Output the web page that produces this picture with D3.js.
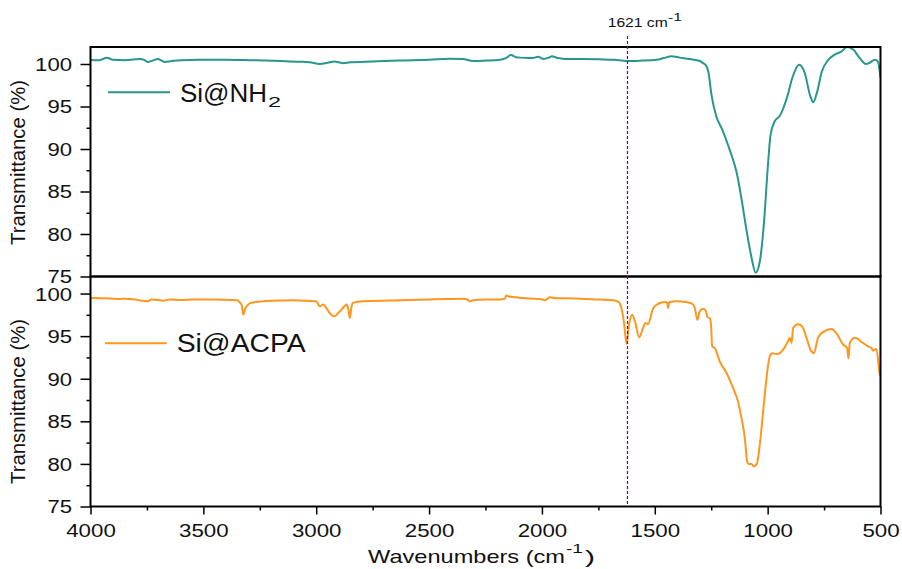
<!DOCTYPE html>
<html><head><meta charset="utf-8">
<script src="https://cdn.jsdelivr.net/npm/d3@7"></script>
<style>body{margin:0;background:#fff}svg{display:block}text{font-family:"Liberation Sans",Arial,sans-serif;fill:#111}</style>
</head><body><svg id="c" width="902" height="569"></svg>
<script>
// ---- data ----
const wnNH2 = [4000,3960,3928,3900,3850,3800,3782,3760,3746,3725,3702,3685,3671,3640,3600,3516,3400,3294,3150,3073,3030,2984,2950,2918,2900,2882,2850,2750,2630,2500,2408,2350,2306,2250,2186,2160,2137,2115,2097,2060,2040,2018,1992,1970,1956,1930,1899,1830,1744,1680,1625,1560,1492,1460,1426,1390,1345,1300,1286,1275,1262,1249,1227,1203,1168,1137,1115,1094,1072,1053,1035,1017,1000,987,968,946,915,889,861,835,813,798,782,760,734,703,671,649,621,592,565,548,525,512,500];
const tNH2 = [100.47,100.45,100.74,100.5,100.45,100.55,100.6,100.45,100.23,100.4,100.6,100.4,100.25,100.35,100.45,100.5,100.5,100.45,100.35,100.27,100.2,100.0,100.15,100.3,100.2,100.1,100.2,100.3,100.42,100.5,100.62,100.6,100.35,100.4,100.5,100.7,101.05,100.8,100.75,100.7,100.7,100.85,100.6,100.75,100.9,100.7,100.6,100.58,100.55,100.5,100.35,100.4,100.5,100.7,100.9,100.75,100.58,100.35,100.1,99.9,99.0,96.4,93.8,92.4,89.9,87.2,84.0,80.5,77.3,75.45,76.7,81.1,87.6,91.7,93.3,93.9,96.0,98.5,99.9,98.9,96.4,95.5,96.6,99.1,100.4,101.1,101.5,102.0,101.7,100.7,100.0,100.15,100.5,100.3,98.4];

const wnACPA = [4000,3950,3900,3870,3850,3800,3770,3746,3730,3700,3680,3650,3600,3550,3450,3380,3350,3340,3330,3323,3315,3305,3290,3250,3200,3100,3073,3000,2984,2969,2955,2940,2921,2896,2875,2866,2858,2851,2845,2839,2792,2661,2500,2422,2350,2330,2320,2300,2250,2186,2165,2157,2145,2128,2100,2070,2040,2010,1995,1987,1975,1965,1940,1900,1832,1744,1685,1660,1648,1637,1625,1614,1600,1588,1569,1552,1541,1530,1507,1485,1456,1445,1441,1437,1434,1404,1380,1345,1330,1323,1311,1301,1286,1274,1267,1256,1250,1246,1234,1212,1182,1153,1131,1116,1101,1091,1085,1072,1061,1047,1035,1020,1005,991,979,961,932,910,902,894,887,865,847,828,810,795,777,754,717,692,666,648,642,636,614,578,555,540,533,518,503,500];
const tACPA = [99.49,99.45,99.4,99.35,99.4,99.3,99.15,99.1,99.3,99.25,99.15,99.3,99.25,99.3,99.3,99.25,99.2,99.0,98.6,97.55,98.2,98.6,98.9,99.05,99.15,99.2,99.18,99.1,98.5,98.7,98.3,97.7,97.33,97.9,98.5,98.7,98.2,97.14,98.2,98.9,99.1,99.18,99.3,99.37,99.4,99.3,99.1,99.25,99.3,99.3,99.4,99.76,99.65,99.6,99.5,99.45,99.4,99.35,99.3,99.2,99.4,99.57,99.45,99.45,99.4,99.3,99.2,99.0,98.3,96.7,94.1,96.35,97.5,96.75,94.86,95.96,96.55,96.4,98.3,98.8,99.0,98.9,98.3,98.9,99.0,99.1,99.05,98.9,98.7,98.3,96.9,97.9,98.2,98.0,97.25,97.1,96.0,93.8,93.6,92.0,90.67,88.9,87.3,85.4,83.0,80.3,80.0,80.0,79.7,80.1,82.2,86.15,90.1,92.6,93.0,92.9,93.4,94.4,94.8,94.2,95.96,96.4,96.15,94.8,93.4,93.0,94.8,95.5,95.85,95.2,94.0,93.6,92.4,94.2,94.8,94.2,93.8,93.6,93.3,93.5,90.5,90.3];

const xMajor = [4000,3500,3000,2500,2000,1500,1000,500];
const xMinor = [3750,3250,2750,2250,1750,1250,750];
const yMajor = [75,80,85,90,95,100];
const yMinor = [77.5,82.5,87.5,92.5,97.5];
const markerWn = 1621;
const colors = {nh2:"#26968f", acpa:"#ff961e"};

// ---- layout ----
const svg = d3.select("#c");
const L = 90.5, R = 880.5, T1 = 47, M = 276.5, B = 506.5;
const x = d3.scaleLinear().domain([4000,500]).range([L,R]);
const y1 = d3.scaleLinear().domain([75,102]).range([M,T1]);
const y2 = d3.scaleLinear().domain([75,102]).range([B,M]);

const defs = svg.append("defs");
defs.append("clipPath").attr("id","cp1").append("rect").attr("x",L).attr("y",T1-1).attr("width",R-L).attr("height",M-T1+1);
defs.append("clipPath").attr("id","cp2").append("rect").attr("x",L).attr("y",M).attr("width",R-L).attr("height",B-M);

function panel(yS, wn, tv, color, clip){
  const data = wn.map((w,i)=>[w,tv[i]]);
  const line = d3.line().x(d=>x(d[0])).y(d=>yS(d[1])).curve(d3.curveMonotoneX);
  svg.append("path").datum(data).attr("d",line).attr("fill","none").attr("stroke",color)
     .attr("stroke-width",2).attr("stroke-linejoin","round").attr("clip-path",`url(#${clip})`);
  const gy = svg.append("g").attr("transform",`translate(${L},0)`);
  gy.call(d3.axisLeft(yS).tickValues(yMajor).tickSize(10).tickPadding(8.5).tickFormat(d3.format("d")));
  gy.select(".domain").remove();
  gy.selectAll(".tick line").attr("stroke","#000").attr("stroke-width",1.5);
  gy.selectAll(".tick text").attr("font-size",18).attr("font-family","Liberation Sans, Arial, sans-serif")
    .attr("fill","#111").attr("dy","0.36em")
    .attr("textLength",d=>String(d).length*12.3).attr("lengthAdjust","spacingAndGlyphs");
  const gm = svg.append("g").attr("transform",`translate(${L},0)`);
  gm.call(d3.axisLeft(yS).tickValues(yMinor).tickSize(4).tickFormat(""));
  gm.select(".domain").remove();
  gm.selectAll(".tick line").attr("stroke","#000").attr("stroke-width",1.5);
}
panel(y1, wnNH2, tNH2, colors.nh2, "cp1");
panel(y2, wnACPA, tACPA, colors.acpa, "cp2");

// x axis
const gx = svg.append("g").attr("transform",`translate(0,${B})`);
gx.call(d3.axisBottom(x).tickValues(xMajor).tickSize(8).tickFormat(d3.format("d")));
gx.select(".domain").remove();
gx.selectAll(".tick line").attr("stroke","#000").attr("stroke-width",1.5);
gx.selectAll(".tick text").attr("font-size",18).attr("font-family","Liberation Sans, Arial, sans-serif")
  .attr("fill","#111").attr("y",30.2).attr("dy",0)
  .attr("textLength",d=>String(d).length*12.4).attr("lengthAdjust","spacingAndGlyphs");
const gxm = svg.append("g").attr("transform",`translate(0,${B})`);
gxm.call(d3.axisBottom(x).tickValues(xMinor).tickSize(4).tickFormat(""));
gxm.select(".domain").remove();
gxm.selectAll(".tick line").attr("stroke","#000").attr("stroke-width",1.5);

// frames
[[T1,M],[M,B]].forEach(([a,b])=>{
  svg.append("rect").attr("x",L).attr("y",a).attr("width",R-L).attr("height",b-a)
    .attr("fill","none").attr("stroke","#000").attr("stroke-width",2);
});

// marker line
svg.append("line").attr("x1",x(markerWn)).attr("x2",x(markerWn)).attr("y1",36).attr("y2",B)
  .attr("stroke","#800080").attr("stroke-width",1.2).attr("stroke-dasharray","3,2");
svg.append("text").attr("x",607.7).attr("y",26.5).attr("font-size",13.5)
  .attr("textLength",60).attr("lengthAdjust","spacingAndGlyphs").text("1621 cm");
svg.append("text").attr("x",668).attr("y",21).attr("font-size",10)
  .attr("textLength",14).attr("lengthAdjust","spacingAndGlyphs").text("-1");

// y labels
[[162.5],[401.5]].forEach(([cy])=>{
  svg.append("text").attr("transform",`translate(25,${cy}) rotate(-90)`).attr("text-anchor","middle")
    .attr("font-size",20).attr("textLength",165).attr("lengthAdjust","spacingAndGlyphs").text("Transmittance (%)");
});

// x title
svg.append("text").attr("x",368).attr("y",562.5).attr("font-size",19)
  .attr("textLength",197).attr("lengthAdjust","spacingAndGlyphs").text("Wavenumbers (cm");
svg.append("text").attr("x",566).attr("y",553).attr("font-size",12)
  .attr("textLength",17).attr("lengthAdjust","spacingAndGlyphs").text("-1");
svg.append("text").attr("x",585).attr("y",562.5).attr("font-size",19)
  .attr("textLength",10).attr("lengthAdjust","spacingAndGlyphs").text(")");

// legends
svg.append("line").attr("x1",108).attr("x2",170).attr("y1",92.3).attr("y2",92.3).attr("stroke",colors.nh2).attr("stroke-width",2);
svg.append("text").attr("x",180).attr("y",101.7).attr("font-size",25)
  .attr("textLength",87).attr("lengthAdjust","spacingAndGlyphs").text("Si@NH");
svg.append("text").attr("x",268).attr("y",107).attr("font-size",15)
  .attr("textLength",13).attr("lengthAdjust","spacingAndGlyphs").text("2");
svg.append("line").attr("x1",105).attr("x2",166.7).attr("y1",343.3).attr("y2",343.3).attr("stroke",colors.acpa).attr("stroke-width",2);
svg.append("text").attr("x",176.7).attr("y",351.7).attr("font-size",25)
  .attr("textLength",129).attr("lengthAdjust","spacingAndGlyphs").text("Si@ACPA");
</script></body></html>
